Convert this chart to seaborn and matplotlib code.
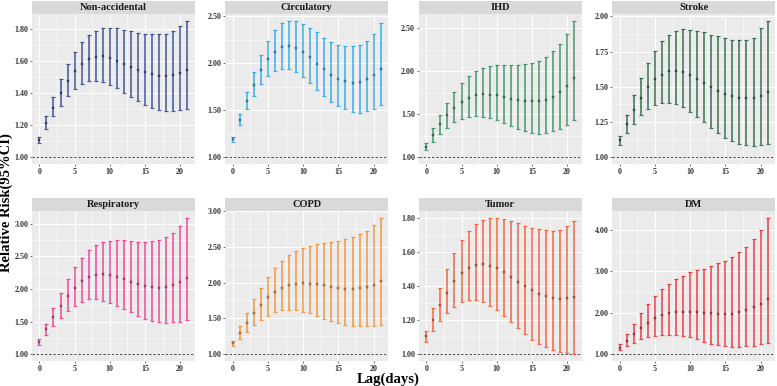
import numpy as np
import pandas as pd
import seaborn as sns
import matplotlib.pyplot as plt
from matplotlib.patches import Rectangle
from matplotlib.ticker import FormatStrFormatter, MultipleLocator

# lag days 0..21
lags = list(range(22))

# relative risk and 95% CI
nonacc_rr = [1.11, 1.215, 1.31, 1.40, 1.477, 1.54, 1.58, 1.61, 1.623, 1.63, 1.62, 1.60,
             1.583, 1.565, 1.546, 1.53, 1.517, 1.508, 1.508, 1.515, 1.527, 1.546]
nonacc_lo = [1.092, 1.175, 1.255, 1.32, 1.38, 1.425, 1.455, 1.477, 1.473, 1.47, 1.452, 1.43,
             1.40, 1.375, 1.348, 1.325, 1.31, 1.296, 1.288, 1.288, 1.294, 1.30]
nonacc_hi = [1.127, 1.26, 1.375, 1.485, 1.58, 1.654, 1.72, 1.76, 1.785, 1.808, 1.808, 1.806,
             1.796, 1.787, 1.775, 1.767, 1.765, 1.765, 1.77, 1.787, 1.815, 1.85]

circ_rr = [1.192, 1.40, 1.60, 1.773, 1.926, 2.047, 2.126, 2.17, 2.18, 2.16, 2.122, 2.065,
           1.997, 1.937, 1.88, 1.837, 1.816, 1.794, 1.80, 1.83, 1.876, 1.944]
circ_lo = [1.167, 1.34, 1.51, 1.648, 1.78, 1.865, 1.923, 1.944, 1.94, 1.905, 1.855, 1.787,
           1.716, 1.648, 1.591, 1.545, 1.513, 1.488, 1.474, 1.49, 1.513, 1.556]
circ_hi = [1.22, 1.46, 1.695, 1.908, 2.09, 2.243, 2.357, 2.425, 2.453, 2.453, 2.42, 2.38,
           2.33, 2.275, 2.233, 2.20, 2.186, 2.18, 2.197, 2.243, 2.314, 2.425]

ihd_rr = [1.12, 1.257, 1.385, 1.494, 1.572, 1.646, 1.689, 1.72, 1.73, 1.727, 1.72, 1.70,
          1.68, 1.665, 1.654, 1.65, 1.654, 1.67, 1.696, 1.755, 1.825, 1.918]
ihd_lo = [1.086, 1.183, 1.276, 1.346, 1.41, 1.444, 1.467, 1.475, 1.47, 1.455, 1.436, 1.40,
          1.366, 1.335, 1.307, 1.288, 1.276, 1.28, 1.307, 1.335, 1.373, 1.43]
ihd_hi = [1.163, 1.346, 1.49, 1.634, 1.763, 1.868, 1.946, 2.004, 2.04, 2.062, 2.074, 2.074,
          2.074, 2.074, 2.078, 2.093, 2.12, 2.163, 2.23, 2.32, 2.43, 2.584]

stroke_rr = [1.124, 1.235, 1.333, 1.422, 1.498, 1.553, 1.587, 1.61, 1.614, 1.607, 1.587, 1.558,
             1.53, 1.498, 1.473, 1.45, 1.432, 1.422, 1.42, 1.422, 1.437, 1.464]
stroke_lo = [1.087, 1.17, 1.238, 1.30, 1.34, 1.371, 1.388, 1.388, 1.376, 1.354, 1.325, 1.284,
             1.248, 1.206, 1.172, 1.14, 1.116, 1.097, 1.087, 1.083, 1.087, 1.092]
stroke_hi = [1.155, 1.30, 1.444, 1.566, 1.672, 1.757, 1.823, 1.87, 1.896, 1.91, 1.905, 1.896,
             1.886, 1.871, 1.86, 1.845, 1.835, 1.832, 1.832, 1.847, 1.92, 1.968]

resp_rr = [1.185, 1.38, 1.564, 1.738, 1.887, 2.015, 2.118, 2.18, 2.215, 2.226, 2.21, 2.185,
           2.15, 2.108, 2.072, 2.046, 2.026, 2.02, 2.026, 2.056, 2.113, 2.174]
resp_lo = [1.138, 1.29, 1.436, 1.56, 1.66, 1.744, 1.80, 1.84, 1.84, 1.82, 1.78, 1.744,
           1.687, 1.64, 1.58, 1.543, 1.508, 1.487, 1.482, 1.487, 1.492, 1.523]
resp_hi = [1.23, 1.47, 1.713, 1.944, 2.16, 2.34, 2.48, 2.595, 2.68, 2.723, 2.744, 2.75,
           2.75, 2.738, 2.728, 2.728, 2.744, 2.76, 2.805, 2.867, 2.964, 3.097]

copd_rr = [1.153, 1.293, 1.437, 1.577, 1.688, 1.795, 1.874, 1.93, 1.963, 1.98, 1.99, 1.986,
           1.977, 1.963, 1.94, 1.926, 1.916, 1.916, 1.92, 1.94, 1.972, 2.02]
copd_lo = [1.116, 1.21, 1.307, 1.405, 1.474, 1.54, 1.59, 1.61, 1.614, 1.614, 1.595, 1.572,
           1.535, 1.498, 1.465, 1.437, 1.41, 1.40, 1.395, 1.395, 1.40, 1.405]
copd_hi = [1.19, 1.395, 1.577, 1.767, 1.93, 2.08, 2.205, 2.307, 2.386, 2.44, 2.484, 2.51,
           2.535, 2.558, 2.567, 2.58, 2.605, 2.633, 2.68, 2.72, 2.805, 2.907]

tumor_rr = [1.106, 1.202, 1.289, 1.363, 1.43, 1.477, 1.507, 1.525, 1.53, 1.52, 1.507, 1.483,
            1.454, 1.426, 1.40, 1.375, 1.355, 1.34, 1.328, 1.326, 1.328, 1.338]
tumor_lo = [1.07, 1.137, 1.196, 1.243, 1.277, 1.31, 1.32, 1.32, 1.306, 1.285, 1.26, 1.226,
            1.19, 1.155, 1.12, 1.086, 1.06, 1.04, 1.024, 1.012, 1.004, 1.002]
tumor_hi = [1.137, 1.273, 1.389, 1.503, 1.597, 1.67, 1.727, 1.766, 1.79, 1.80, 1.804, 1.796,
            1.784, 1.772, 1.756, 1.745, 1.735, 1.729, 1.727, 1.733, 1.752, 1.782]

dm_rr = [1.16, 1.315, 1.484, 1.637, 1.75, 1.863, 1.935, 1.984, 2.016, 2.03, 2.03, 2.024,
         2.0, 1.984, 1.976, 1.968, 1.976, 2.008, 2.056, 2.13, 2.21, 2.34]
dm_lo = [1.09, 1.194, 1.274, 1.355, 1.403, 1.435, 1.46, 1.468, 1.468, 1.435, 1.403, 1.355,
         1.29, 1.25, 1.218, 1.194, 1.185, 1.185, 1.194, 1.20, 1.24, 1.274]
dm_hi = [1.24, 1.484, 1.734, 1.984, 2.218, 2.411, 2.58, 2.70, 2.822, 2.90, 2.976, 3.024,
         3.07, 3.13, 3.20, 3.258, 3.34, 3.46, 3.597, 3.774, 3.99, 4.30]

titles = ["Non-accidental", "Circulatory", "IHD", "Stroke",
          "Respiratory", "COPD", "Tumor", "DM"]
rr_all = [nonacc_rr, circ_rr, ihd_rr, stroke_rr, resp_rr, copd_rr, tumor_rr, dm_rr]
lo_all = [nonacc_lo, circ_lo, ihd_lo, stroke_lo, resp_lo, copd_lo, tumor_lo, dm_lo]
hi_all = [nonacc_hi, circ_hi, ihd_hi, stroke_hi, resp_hi, copd_hi, tumor_hi, dm_hi]
tick_steps = [0.2, 0.5, 0.5, 0.25, 0.5, 0.5, 0.2, 1.0]
colors = ["#27408B", "#1FA3E6", "#2E8B57", "#1F5E36",
          "#F0308C", "#F58A25", "#F2542A", "#E8262A"]

sns.set_theme(style="darkgrid", rc={
    "axes.facecolor": "#EBEBEB",
    "grid.color": "white",
})
plt.rcParams['font.family'] = ['Liberation Serif', 'DejaVu Serif']
plt.rcParams['font.weight'] = 'bold'

fig, axs = plt.subplots(2, 4, figsize=(7.77, 3.86), dpi=100)
fig.subplots_adjust(left=32 / 777, right=775 / 777, top=1 - 14 / 386,
                    bottom=1 - 361 / 386, wspace=0.19, hspace=0.31)

for i, ax in enumerate(axs.flat):
    df = pd.DataFrame({"lag": lags, "rr": rr_all[i], "lo": lo_all[i], "hi": hi_all[i]})
    col = colors[i]

    ax.errorbar(df["lag"], df["rr"],
                yerr=[df["rr"] - df["lo"], df["hi"] - df["rr"]],
                fmt="none", ecolor=col, elinewidth=1.2, capsize=1.4, capthick=0.9,
                alpha=0.8, zorder=3)
    sns.scatterplot(data=df, x="lag", y="rr", ax=ax, color=col, marker="s",
                    s=3, linewidth=0.25, edgecolor="#333333", zorder=4, legend=False)
    ax.axhline(1.0, color="#333333", linestyle=(0, (3, 2)), linewidth=0.6, zorder=2)

    # ggplot-like 5% expansion, range includes the reference line
    lo_v = min(1.0, min(lo_all[i]))
    hi_v = max(hi_all[i])
    pad = 0.05 * (hi_v - lo_v)
    ax.set_ylim(lo_v - pad, hi_v + pad)
    ax.set_xlim(-1.05, 22.05)

    step = tick_steps[i]
    ax.yaxis.set_major_locator(MultipleLocator(step))
    ax.yaxis.set_minor_locator(MultipleLocator(step / 2))
    ax.yaxis.set_major_formatter(FormatStrFormatter("%.2f"))
    ax.xaxis.set_major_locator(MultipleLocator(5))
    ax.xaxis.set_minor_locator(MultipleLocator(2.5))
    ax.grid(which="major", color="white", linewidth=0.8)
    ax.grid(which="minor", color="white", linewidth=0.4)

    ax.tick_params(axis="both", which="major", labelsize=5.8, length=1.5, width=0.5,
                   color="#333333", labelcolor="#333333", pad=1.2,
                   bottom=True, left=True)
    ax.tick_params(axis="both", which="minor", length=0)
    for lab in ax.get_xticklabels() + ax.get_yticklabels():
        lab.set_fontweight("bold")
    ax.set_xlabel("")
    ax.set_ylabel("")
    for sp in ax.spines.values():
        sp.set_visible(False)

    # facet strip on top of the panel
    strip_h = 13 / 150
    ax.add_patch(Rectangle((0, 1), 1, strip_h, transform=ax.transAxes,
                           facecolor="#D9D9D9", edgecolor="none", clip_on=False))
    ax.text(0.5, 1 + strip_h / 2, titles[i], transform=ax.transAxes,
            ha="center", va="center", fontsize=7.5, fontweight="bold", color="#1A1A1A")

fig.text(0.0085, 0.474, "Relative Risk(95%CI)", rotation=90, ha="center", va="center",
         fontsize=10.5, fontweight="bold", color="black")
fig.text(0.5, 0.018, "Lag(days)", ha="center", va="center",
         fontsize=10.5, fontweight="bold", color="black")

fig.savefig("out.png", dpi=100)
